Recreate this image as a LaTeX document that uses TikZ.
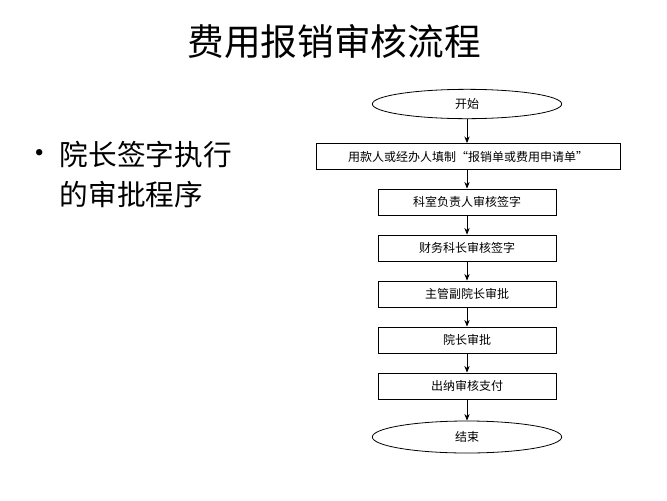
\documentclass[tikz,border=0pt]{standalone}
\usepackage{fontspec}
\setmainfont{Liberation Serif}
\newfontfamily\cjk{Noto Sans CJK SC}
\usetikzlibrary{shapes.geometric,arrows.meta}
\begin{document}
\begin{tikzpicture}[x=0.75pt,y=-0.75pt,
  stepbox/.style={draw,semithick,minimum height=19.5pt,font=\cjk\fontsize{9}{11}\selectfont,inner sep=0pt},
  oval/.style={draw,semithick,ellipse,minimum width=142pt,minimum height=22pt,font=\cjk\fontsize{9}{11}\selectfont,inner sep=0pt},
  arr/.style={-{Stealth[length=5pt,width=4pt]},semithick}]
\useasboundingbox (0,0) rectangle (667,500);
\node (title) at (334,42) {\cjk\fontsize{27.5}{31}\selectfont 费用报销审核流程};
\node[anchor=west] (b1) at (30,155) {\fontsize{20}{24}\selectfont •};
\node[anchor=west] (t1) at (55,155) {\cjk\fontsize{21.5}{26}\selectfont 院长签字执行};
\node[anchor=west] (t2) at (55,195) {\cjk\fontsize{21.5}{26}\selectfont 的审批程序};
\node[oval] (s) at (467,104) {开始};
\node[stepbox,minimum width=228pt] (n1) at (468,156.5) {用款人或经办人填制“报销单或费用申请单”};
\node[stepbox,minimum width=133.5pt] (n2) at (467,202) {科室负责人审核签字};
\node[stepbox,minimum width=133.5pt] (n3) at (467,248) {财务科长审核签字};
\node[stepbox,minimum width=133.5pt] (n4) at (467,294) {主管副院长审批};
\node[stepbox,minimum width=133.5pt] (n5) at (467,340) {院长审批};
\node[stepbox,minimum width=133.5pt] (n6) at (467,386) {出纳审核支付};
\node[oval,minimum height=24pt] (e) at (467,437) {结束};
\draw[arr] (s) -- (s|-n1.north);
\draw[arr] (n1.south-|n2) -- (n2);
\draw[arr] (n2) -- (n3);
\draw[arr] (n3) -- (n4);
\draw[arr] (n4) -- (n5);
\draw[arr] (n5) -- (n6);
\draw[arr] (n6) -- (e);
\end{tikzpicture}
\end{document}
